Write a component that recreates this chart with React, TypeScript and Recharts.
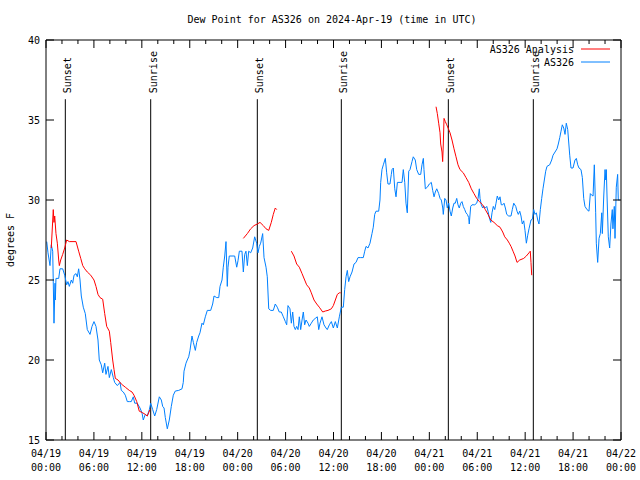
import React from 'react';
import { LineChart, Line, XAxis, YAxis, ReferenceLine } from 'recharts';

// ============================================================================
// --- DATA (hours since 2024-04-19 00:00 UTC, dew point in degrees F) ---
// ============================================================================

const obsDay1: [number, number][] = [
  [0.09, 27.4], [0.25, 26.7], [0.5, 25.9], [0.66, 27.2], [0.84, 26.8], [1.0, 22.3], [1.13, 24.8], [1.17, 23.75],
  [1.25, 25.1], [1.59, 25.1], [1.75, 25.7], [2.09, 25.7], [2.34, 25.3], [2.59, 24.7], [2.75, 24.9], [2.92, 24.6],
  [3.17, 25.0], [3.34, 24.8], [3.51, 25.3], [3.76, 25.4], [3.92, 25.2], [4.09, 25.7], [4.26, 25.0], [4.42, 24.0],
  [4.67, 23.3], [4.92, 22.9], [5.17, 21.9], [5.51, 21.6], [5.76, 22.1], [6.01, 22.4], [6.26, 22.1], [6.51, 21.25],
  [6.67, 20.0], [6.92, 19.7], [7.1, 19.2], [7.35, 19.8], [7.51, 19.1], [7.76, 19.6], [7.93, 18.9], [8.18, 19.4],
  [8.43, 18.9], [8.6, 18.6], [8.93, 18.4], [9.27, 18.6], [9.43, 18.1], [9.68, 18.0], [9.93, 17.8], [10.18, 17.4],
  [10.43, 17.4], [10.68, 17.4], [10.93, 17.7], [11.11, 17.3], [11.43, 17.3], [11.77, 17.0], [12.02, 16.7],
  [12.18, 16.25], [12.43, 16.6], [12.68, 16.5], [12.94, 16.9], [13.11, 17.3], [13.36, 16.9], [13.61, 16.5],
  [13.86, 16.9], [14.19, 17.7], [14.44, 17.5], [14.61, 17.1], [14.78, 17.0], [14.94, 16.4], [15.19, 15.7],
  [15.44, 16.25], [15.69, 17.1], [15.94, 17.8], [16.19, 18.06], [16.62, 18.1], [17.03, 18.2], [17.19, 18.6],
  [17.28, 19.3], [17.53, 19.8], [17.69, 20.0], [17.87, 20.2], [18.03, 20.6], [18.28, 21.5], [18.45, 21.1],
  [18.7, 20.6], [18.87, 21.1], [19.12, 21.5], [19.28, 21.7], [19.53, 22.3], [19.7, 22.2], [19.95, 22.7],
  [20.2, 23.1], [20.62, 23.1], [20.87, 23.5], [21.04, 24.0], [21.38, 23.9], [21.63, 23.9], [21.79, 24.6],
  [22.04, 25.0], [22.2, 25.8], [22.38, 26.5], [22.54, 27.4], [22.7, 24.6], [22.79, 25.8], [22.95, 26.5],
  [23.29, 26.5], [23.63, 26.5], [23.88, 25.8],
];

const obsDay2: [number, number][] = [
  [24.04, 26.2], [24.21, 26.8], [24.54, 26.8], [24.71, 25.5], [24.88, 26.6], [25.04, 26.8], [25.21, 25.9],
  [25.38, 26.8], [25.63, 26.7], [25.88, 27.0], [26.13, 27.7], [26.38, 27.3], [26.55, 26.7], [26.71, 27.1],
  [26.88, 27.3], [27.13, 27.9], [27.3, 26.4], [27.55, 25.8], [27.71, 25.2], [27.89, 23.2], [28.14, 23.1],
  [28.46, 23.1], [28.71, 23.5], [28.96, 23.3], [29.21, 23.0], [29.46, 23.0], [29.72, 22.7], [29.97, 22.4],
  [30.14, 22.2], [30.3, 23.4], [30.55, 23.2], [30.72, 22.3], [30.89, 23.0], [31.05, 22.1], [31.22, 21.9],
  [31.39, 22.1], [31.56, 21.9], [31.72, 22.7], [31.89, 21.9], [32.06, 22.5], [32.22, 23.0], [32.39, 22.2],
  [32.56, 22.5], [32.81, 22.3], [32.97, 22.1], [33.22, 22.3], [33.47, 22.5], [33.72, 22.6], [33.97, 22.7],
  [34.15, 21.9], [34.31, 22.3], [34.56, 22.7], [34.81, 22.2], [35.06, 22.0], [35.22, 21.9], [35.48, 22.2],
  [35.73, 22.4], [35.98, 22.0], [36.23, 22.4], [36.48, 22.0], [36.73, 22.7], [36.98, 23.3], [37.23, 23.3],
  [37.4, 24.4], [37.57, 25.2], [37.73, 25.6], [37.9, 24.9], [38.07, 25.2], [38.32, 25.5], [38.57, 26.0],
  [38.82, 26.1], [39.07, 26.4], [39.41, 26.4], [39.73, 26.4], [39.91, 26.8], [40.07, 27.1], [40.32, 27.0],
  [40.57, 27.3], [40.82, 27.9], [40.98, 28.3], [41.16, 29.1], [41.32, 29.3], [41.66, 29.3], [41.82, 30.0],
  [41.91, 31.1], [42.07, 31.9], [42.24, 32.2], [42.49, 32.6], [42.66, 31.7], [42.82, 31.0], [43.07, 31.0],
  [43.24, 31.6], [43.33, 31.9], [43.49, 32.0], [43.67, 30.7], [43.83, 30.2], [44.0, 31.1], [44.33, 31.1],
  [44.58, 31.1], [44.74, 31.9], [44.92, 31.1], [45.08, 29.8], [45.24, 29.2], [45.42, 31.8], [45.58, 31.9],
  [45.83, 32.4], [45.99, 32.7], [46.24, 32.5], [46.42, 31.9], [46.67, 31.6], [46.92, 31.6], [47.08, 32.2],
  [47.25, 32.6], [47.33, 31.9], [47.5, 30.7], [47.75, 30.8],
];

const obsDay3: [number, number][] = [
  [48.0, 31.0], [48.25, 31.1], [48.42, 30.6], [48.59, 30.2], [48.75, 30.5], [48.93, 30.7], [49.17, 30.4],
  [49.34, 30.1], [49.5, 30.0], [49.68, 29.5], [49.75, 29.1], [49.93, 30.1], [50.09, 30.0], [50.25, 29.5],
  [50.43, 29.8], [50.59, 29.3], [50.75, 29.0], [50.93, 29.5], [51.09, 29.8], [51.25, 29.8], [51.43, 30.1],
  [51.59, 29.7], [51.75, 29.5], [51.93, 29.8], [52.09, 29.9], [52.25, 29.6], [52.43, 29.4], [52.59, 29.2],
  [52.76, 29.1], [52.93, 28.9], [53.0, 28.5], [53.18, 29.6], [53.34, 29.7], [53.68, 29.7], [53.93, 29.8],
  [54.1, 30.1], [54.26, 30.7], [54.35, 30.1], [54.51, 29.7], [54.68, 29.5], [54.85, 29.6], [55.01, 29.5],
  [55.19, 29.6], [55.35, 29.3], [55.51, 28.9], [55.69, 28.6], [55.85, 29.2], [56.01, 29.6], [56.19, 29.4],
  [56.35, 29.8], [56.51, 30.25], [56.69, 30.0], [56.85, 30.2], [57.01, 29.7], [57.19, 29.7], [57.35, 29.8],
  [57.52, 29.5], [57.69, 29.1], [57.94, 29.0], [58.23, 29.0], [58.39, 29.4], [58.57, 29.8], [58.82, 29.6],
  [58.98, 29.3], [59.14, 29.1], [59.32, 29.3], [59.48, 29.0], [59.64, 28.5], [59.82, 28.7], [59.98, 28.1],
  [60.15, 27.3], [60.32, 27.8], [60.48, 28.2], [60.73, 28.75], [60.9, 28.8], [61.07, 29.4], [61.23, 29.1],
  [61.4, 29.2], [61.57, 28.75], [61.73, 28.5], [61.9, 29.4], [62.07, 30.1], [62.23, 30.7], [62.4, 31.25],
  [62.57, 31.8], [62.73, 32.1], [63.07, 32.2], [63.32, 32.5], [63.49, 32.8], [63.74, 33.0], [63.99, 33.2],
  [64.15, 33.5], [64.33, 33.9], [64.49, 34.3], [64.65, 34.7], [64.83, 34.5], [64.99, 34.1], [65.15, 34.8],
  [65.33, 34.4], [65.58, 32.8], [65.74, 32.0], [65.99, 32.0], [66.24, 32.5], [66.41, 32.6], [66.58, 32.2],
  [66.74, 32.0], [66.99, 31.9], [67.16, 31.4], [67.33, 30.1], [67.49, 29.6], [67.74, 29.4], [67.99, 29.3],
  [68.16, 30.4], [68.33, 30.3], [68.5, 30.25], [68.66, 32.2], [68.83, 29.2], [68.91, 27.3], [69.08, 26.1],
  [69.25, 27.6], [69.41, 27.9], [69.59, 29.2], [69.66, 27.9], [69.84, 30.25], [70.0, 31.9], [70.09, 31.25],
  [70.16, 31.9], [70.25, 30.25], [70.41, 27.7], [70.58, 27.0], [70.74, 28.5], [70.91, 29.4], [70.99, 28.2],
  [71.16, 29.6], [71.25, 27.6], [71.41, 30.8], [71.58, 31.6], [71.66, 30.0], [71.83, 30.0],
];

// analysis runs come in separate pieces (gaps between them)
const analysisRun1: [number, number][] = [
  [0.66, 27.0], [0.91, 29.4], [1.0, 28.6], [1.09, 29.0], [1.25, 27.9], [1.42, 27.3], [1.59, 26.25], [1.67, 25.9],
  [1.84, 26.25], [2.09, 26.6], [2.34, 27.0], [2.59, 27.5], [2.92, 27.4], [3.76, 27.4], [4.09, 26.8], [4.35, 26.35],
  [4.6, 25.9], [4.85, 25.7], [5.17, 25.5], [5.6, 25.3], [6.01, 25.0], [6.26, 24.6], [6.51, 24.1], [6.76, 23.9],
  [7.1, 23.8], [7.35, 22.9], [7.6, 22.1], [7.93, 21.8], [8.1, 21.1], [8.35, 20.0], [8.52, 19.4], [8.68, 18.85],
  [9.02, 18.75], [9.43, 18.5], [9.93, 18.3], [10.43, 18.1], [10.77, 18.0], [11.02, 17.8], [11.36, 17.4],
  [11.68, 16.8], [12.11, 16.7], [12.43, 16.6], [12.68, 16.5], [13.02, 16.9],
];

const analysisRun2: [number, number][] = [
  [24.71, 27.6], [25.21, 27.9], [25.63, 28.2], [26.05, 28.4], [26.46, 28.5], [26.8, 28.6], [27.21, 28.4],
  [27.55, 28.2], [27.89, 28.1], [28.21, 28.6], [28.46, 29.1], [28.71, 29.5], [28.89, 29.4],
];

const analysisRun3: [number, number][] = [
  [30.72, 26.8], [31.05, 26.5], [31.39, 26.0], [31.72, 25.8], [32.06, 25.4], [32.39, 25.0], [32.64, 24.7],
  [32.97, 24.5], [33.22, 24.2], [33.56, 23.75], [33.9, 23.5], [34.22, 23.3], [34.65, 23.0], [34.97, 23.06],
  [35.31, 23.1], [35.73, 23.2], [35.98, 23.4], [36.23, 23.75], [36.48, 24.1], [36.73, 24.2], [36.9, 24.2],
];

const analysisRun4: [number, number][] = [
  [48.84, 35.83], [49.0, 35.4], [49.17, 34.8], [49.34, 34.2], [49.42, 33.5], [49.59, 33.0], [49.67, 32.4],
  [49.75, 33.5], [49.84, 35.1], [50.0, 34.9], [50.18, 34.7], [50.43, 34.4], [50.59, 34.2], [50.84, 33.75],
  [51.09, 33.2], [51.34, 32.7], [51.59, 32.2], [51.84, 31.9], [52.25, 31.7], [52.59, 31.4], [52.93, 31.1],
  [53.26, 30.7], [53.59, 30.4], [53.93, 30.1], [54.26, 29.9], [54.68, 29.7], [55.01, 29.4], [55.35, 29.1],
  [55.69, 28.75], [56.1, 28.6], [56.51, 28.4], [56.85, 28.3], [57.19, 28.0], [57.44, 27.7], [57.77, 27.5],
  [58.01, 27.3], [58.23, 27.1], [58.48, 26.8], [58.73, 26.5], [58.98, 26.1], [59.32, 26.25], [59.82, 26.35],
  [60.15, 26.5], [60.48, 26.7], [60.64, 26.8], [60.73, 26.1], [60.82, 25.3],
];

const sunsetHours = [2.42, 26.46, 50.38];
const sunriseHours = [13.11, 36.98, 61.02];
const sunLineTop = 36.3;

const yTicks = [15, 20, 25, 30, 35, 40];
const dateLabels = ['04/19', '04/19', '04/19', '04/19', '04/20', '04/20', '04/20', '04/20', '04/21', '04/21', '04/21', '04/21', '04/22'];
const timeLabels = ['00:00', '06:00', '12:00', '18:00', '00:00', '06:00', '12:00', '18:00', '00:00', '06:00', '12:00', '18:00', '00:00'];

// ============================================================================
// --- LAYOUT / STYLE ---
// ============================================================================

const W = 640;
const H = 480;
const PLOT = { left: 46, right: 621, top: 40, bottom: 440 };
const FONT = '"DejaVu Sans Mono", monospace';
const FS = 10;
const RED = '#ff0000';
const BLUE = '#0080ff';

const xTicks = Array.from({ length: 37 }, (_, i) => i * 2);

const toRows = (pts: [number, number][]) => pts.map(([h, v]) => ({ h, v }));
const obsRows = toRows([...obsDay1, ...obsDay2, ...obsDay3]);
const analysisRows = [analysisRun1, analysisRun2, analysisRun3, analysisRun4].flatMap((run, i, all) =>
  i < all.length - 1 ? [...toRows(run), { h: run[run.length - 1][0] + 0.01, v: null }] : toRows(run)
);

// ============================================================================
// --- TICKS (gnuplot style: inward, mirrored) ---
// ============================================================================

const BottomTick: React.FC<any> = ({ x, payload }) => {
  const h = payload.value as number;
  const major = h % 6 === 0;
  const i = h / 6;
  return (
    <g>
      <line x1={x} x2={x} y1={PLOT.bottom} y2={PLOT.bottom - (major ? 8 : 4)} stroke="#000" />
      {major && (
        <text textAnchor="middle" fontSize={FS} fontFamily={FONT} fill="#000">
          <tspan x={x} y={457}>{dateLabels[i]}</tspan>
          <tspan x={x} y={471}>{timeLabels[i]}</tspan>
        </text>
      )}
    </g>
  );
};

const TopTick: React.FC<any> = ({ x, payload }) => {
  const major = (payload.value as number) % 6 === 0;
  return <line x1={x} x2={x} y1={PLOT.top} y2={PLOT.top + (major ? 8 : 4)} stroke="#000" />;
};

const LeftTick: React.FC<any> = ({ y, payload }) => (
  <g>
    <line x1={PLOT.left} x2={PLOT.left + 8} y1={y} y2={y} stroke="#000" />
    <text x={40} y={y + 3.5} textAnchor="end" fontSize={FS} fontFamily={FONT} fill="#000">
      {payload.value}
    </text>
  </g>
);

const RightTick: React.FC<any> = ({ y }) => (
  <line x1={PLOT.right} x2={PLOT.right - 8} y1={y} y2={y} stroke="#000" />
);

const sunLabel = (text: string) => (props: any) => {
  const vb = props.viewBox || {};
  const x = (vb.x ?? 0) + 6;
  const y = (vb.y ?? PLOT.top) - 6;
  return (
    <text x={x} y={y} transform={`rotate(-90 ${x} ${y})`} fontSize={FS} fontFamily={FONT} fill="#000">
      {text}
    </text>
  );
};

// ============================================================================
// --- COMPONENT ---
// ============================================================================

const App: React.FC = () => {
  const sunEvents = [
    ...sunsetHours.map((h) => ({ h, text: 'Sunset' })),
    ...sunriseHours.map((h) => ({ h, text: 'Sunrise' })),
  ];

  return (
    <div style={{ position: 'absolute', left: 0, top: 0, width: W, height: H, background: '#fff' }}>
      <LineChart width={W} height={H} margin={{ top: 0, right: 0, bottom: 0, left: 0 }}>
        <XAxis
          xAxisId="b"
          dataKey="h"
          type="number"
          domain={[0, 72]}
          ticks={xTicks}
          interval={0}
          height={PLOT.top}
          tickSize={0}
          tickMargin={0}
          tickLine={false}
          axisLine={{ stroke: '#000' }}
          tick={<BottomTick />}
          allowDataOverflow
        />
        <XAxis
          xAxisId="t"
          orientation="top"
          dataKey="h"
          type="number"
          domain={[0, 72]}
          ticks={xTicks}
          interval={0}
          height={PLOT.top}
          tickSize={0}
          tickMargin={0}
          tickLine={false}
          axisLine={{ stroke: '#000' }}
          tick={<TopTick />}
          allowDataOverflow
        />
        <YAxis
          yAxisId="l"
          type="number"
          domain={[15, 40]}
          ticks={yTicks}
          interval={0}
          width={PLOT.left}
          tickSize={0}
          tickMargin={0}
          tickLine={false}
          axisLine={{ stroke: '#000' }}
          tick={<LeftTick />}
          allowDataOverflow
        />
        <YAxis
          yAxisId="r"
          orientation="right"
          type="number"
          domain={[15, 40]}
          ticks={yTicks}
          interval={0}
          width={W - PLOT.right}
          tickSize={0}
          tickMargin={0}
          tickLine={false}
          axisLine={{ stroke: '#000' }}
          tick={<RightTick />}
          allowDataOverflow
        />

        {sunEvents.map((s, i) => (
          <ReferenceLine
            key={`sun-${i}`}
            xAxisId="b"
            yAxisId="l"
            segment={[{ x: s.h, y: 15 }, { x: s.h, y: sunLineTop }]}
            stroke="#000"
            strokeWidth={1}
            label={{ content: sunLabel(s.text) }}
          />
        ))}

        <Line
          xAxisId="b"
          yAxisId="l"
          data={obsRows}
          dataKey="v"
          type="linear"
          stroke={BLUE}
          strokeWidth={1}
          dot={false}
          activeDot={false}
          isAnimationActive={false}
        />
        <Line
          xAxisId="b"
          yAxisId="l"
          data={analysisRows}
          dataKey="v"
          type="linear"
          stroke={RED}
          strokeWidth={1}
          dot={false}
          activeDot={false}
          isAnimationActive={false}
        />
      </LineChart>

      {/* title, axis label and legend, as gnuplot places them */}
      <svg
        width={W}
        height={H}
        style={{ position: 'absolute', left: 0, top: 0, pointerEvents: 'none' }}
        fontFamily={FONT}
        fontSize={FS}
      >
        <text x={332} y={23} textAnchor="middle" fill="#000">
          Dew Point for AS326 on 2024-Apr-19 (time in UTC)
        </text>
        <text x={14} y={240} textAnchor="middle" fill="#000" transform="rotate(-90 14 240)">
          degrees F
        </text>
        <text x={574} y={53} textAnchor="end" fill="#000">AS326 Analysis</text>
        <line x1={581} x2={610} y1={49} y2={49} stroke={RED} />
        <text x={574} y={66} textAnchor="end" fill="#000">AS326</text>
        <line x1={581} x2={610} y1={62} y2={62} stroke={BLUE} />
      </svg>
    </div>
  );
};

export default App;
